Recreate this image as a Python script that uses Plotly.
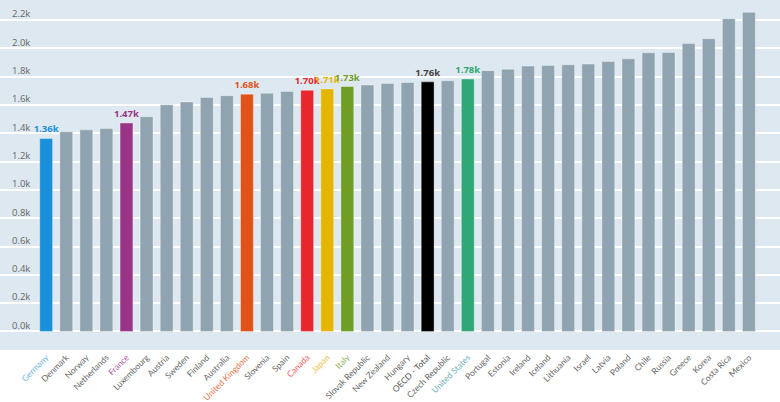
import plotly.graph_objects as go

# Данные (часы работы в год)
countries = [
    "Germany", "Denmark", "Norway", "Netherlands", "France", "Luxembourg",
    "Austria", "Sweden", "Finland", "Australia", "United Kingdom", "Slovenia",
    "Spain", "Canada", "Japan", "Italy", "Slovak Republic", "New Zealand",
    "Hungary", "OECD - Total", "Czech Republic", "United States", "Portugal",
    "Estonia", "Ireland", "Iceland", "Lithuania", "Israel", "Latvia", "Poland",
    "Chile", "Russia", "Greece", "Korea", "Costa Rica", "Mexico",
]
hours = [
    1363, 1410, 1424, 1433, 1472, 1517,
    1601, 1621, 1653, 1665, 1676, 1682,
    1695, 1703, 1713, 1730, 1740, 1752,
    1758, 1763, 1770, 1783, 1842,
    1852, 1874, 1878, 1883, 1889, 1907, 1926,
    1968, 1970, 2033, 2068, 2209, 2254,
]

# Выделенные страны: цвет столбца, цвет подписи значения, цвет подписи оси
highlight = {
    "Germany": ("#1a90db", "#1a90db", "#6fb2e2"),
    "France": ("#993486", "#993486", "#a85a9a"),
    "United Kingdom": ("#e05219", "#e05219", "#e8734a"),
    "Canada": ("#e8262e", "#e8262e", "#ec5a60"),
    "Japan": ("#e4b600", "#e4b600", "#e8c040"),
    "Italy": ("#6f9e26", "#6f9e26", "#8fb455"),
    "OECD - Total": ("#000000", "#444444", "#555555"),
    "United States": ("#2fa876", "#2fa876", "#6aaeb4"),
}
gray = "#8fa4b0"

bar_colors = [highlight[c][0] if c in highlight else gray for c in countries]
text_colors = [highlight[c][1] if c in highlight else gray for c in countries]
labels = [f"{v/1000:.2f}k" if c in highlight else "" for c, v in zip(countries, hours)]
tick_text = [
    f"<span style='color:{highlight[c][2]}'>{c}</span>" if c in highlight else c
    for c in countries
]

y_ticks = list(range(0, 2201, 200))
y_text = [f"{v/1000:.1f}k" for v in y_ticks]

fig = go.Figure(
    go.Bar(
        x=list(range(len(countries))),
        y=hours,
        marker=dict(color=bar_colors, line=dict(width=1, color="rgba(255,255,255,0.35)")),
        text=labels,
        textposition="outside",
        constraintext="none",
        cliponaxis=False,
        textfont=dict(color=text_colors, size=9.5, family="Open Sans", weight="bold"),
        width=0.64,
        hoverinfo="x+y",
    )
)

fig.update_layout(
    width=780,
    height=402,
    margin=dict(l=0, r=0, t=0, b=52),
    paper_bgcolor="white",
    plot_bgcolor="#dde8f0",
    showlegend=False,
    font=dict(family="Lato", color="#666666"),
    xaxis=dict(
        range=[-2.3, 36.55],
        tickmode="array",
        tickvals=list(range(len(countries))),
        ticktext=tick_text,
        tickangle=-45,
        tickfont=dict(size=8.5, color="#666666"),
        showgrid=False,
        zeroline=False,
        ticks="",
        automargin=False,
    ),
    yaxis=dict(
        range=[-131, 2341],
        tickmode="array",
        tickvals=y_ticks,
        ticktext=y_text,
        ticklabelposition="inside",
        ticklabelstandoff=9,
        ticklabelshift=-6,
        tickfont=dict(size=9.5, color="#666666", family="Open Sans"),
        showgrid=True,
        gridcolor="white",
        gridwidth=1.5,
        zeroline=True,
        zerolinecolor="white",
        zerolinewidth=2,
        automargin=False,
    ),
)

fig.write_html(
    "out.html",
    config={"displayModeBar": False},
    post_script="document.body.style.margin='0';",
)
